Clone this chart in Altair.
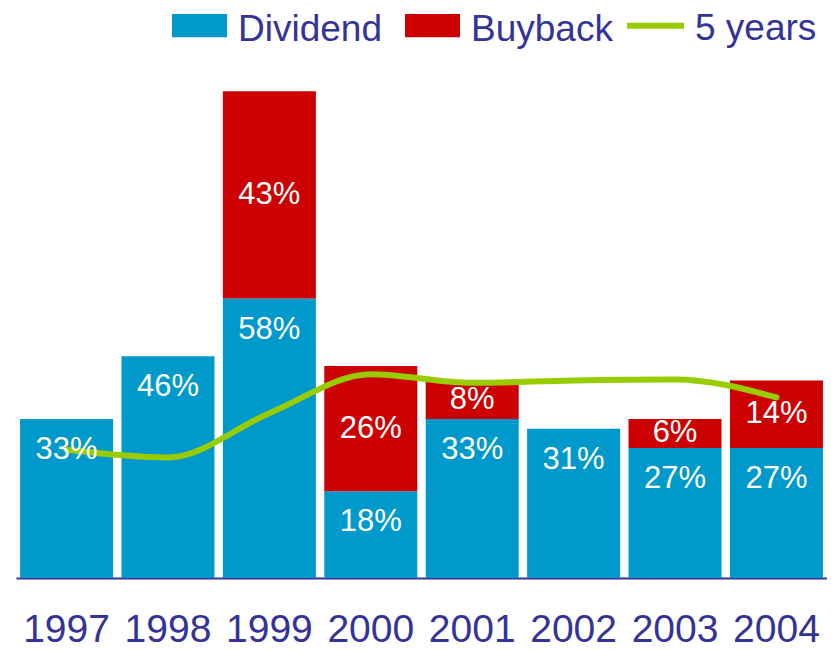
import altair as alt
import pandas as pd

years = ["1997", "1998", "1999", "2000", "2001", "2002", "2003", "2004"]
dividend = [33, 46, 58, 18, 33, 31, 27, 27]
buyback = [0, 0, 43, 26, 8, 0, 6, 14]
five_years = [26.6, 25.0, 34.2, 42.3, 40.5, 41.0, 41.2, 37.5]

FONT = "Liberation Sans"
NAVY = "#333399"

bar_rows = []
for y, d, b in zip(years, dividend, buyback):
    bar_rows.append({"year": y, "series": "Dividend", "value": d, "order": 0})
    if b > 0:
        bar_rows.append({"year": y, "series": "Buyback", "value": b, "order": 1})
bars_df = pd.DataFrame(bar_rows)

div_lab = pd.DataFrame({"year": years, "pos": dividend,
                        "label": [f"{d}%" for d in dividend]})
buy_lab = pd.DataFrame([{"year": y, "pos": d + b / 2, "label": f"{b}%"}
                        for y, d, b in zip(years, dividend, buyback) if b > 0])
line_df = pd.DataFrame({"year": years, "value": five_years, "series": "5 years"})

xscale = alt.Scale(domain=years, paddingInner=0.083, paddingOuter=0.04)
yscale = alt.Scale(domain=[0, 118.3], nice=False, zero=True)

x_enc = alt.X("year:N", scale=xscale, sort=years,
              axis=alt.Axis(title=None, labelAngle=0, labelFontSize=39, labelColor=NAVY,
                            labelFont=FONT, ticks=False, tickSize=0, labelPadding=63,
                            labelBaseline="alphabetic", domainColor=NAVY, domainWidth=2,
                            grid=False))

bars = alt.Chart(bars_df).mark_bar().encode(
    x=x_enc,
    y=alt.Y("value:Q", stack="zero", scale=yscale, axis=None),
    order=alt.Order("order:Q"),
    fill=alt.Fill("series:N",
                  scale=alt.Scale(domain=["Dividend", "Buyback"], range=["#0099CC", "#CC0000"]),
                  legend=alt.Legend(orient="none", legendX=156, legendY=-6, direction="horizontal",
                                    title=None, symbolType="M-1,-0.57H1V0.27H-1Z", symbolSize=3025,
                                    symbolStrokeWidth=0, labelFontSize=37, labelColor=NAVY,
                                    labelFont=FONT, labelOffset=11, columnPadding=23)),
)

line = alt.Chart(line_df).mark_line(strokeWidth=6, interpolate="monotone", strokeCap="round").encode(
    x=alt.X("year:N", scale=xscale, sort=years),
    y=alt.Y("value:Q", scale=yscale),
    stroke=alt.Stroke("series:N", scale=alt.Scale(domain=["5 years"], range=["#99CC00"]),
                      legend=alt.Legend(orient="none", legendX=608, legendY=-11, title=None,
                                        direction="horizontal", symbolType="M-1,-0.1H1",
                                        symbolSize=3249, symbolStrokeWidth=6, labelFontSize=37,
                                        symbolFillColor="transparent",
                                        labelColor=NAVY, labelFont=FONT, labelOffset=8)),
)

t_div = alt.Chart(div_lab).mark_text(color="white", fontSize=31, font=FONT, baseline="middle",
                                     dy=31).encode(
    x=alt.X("year:N", scale=xscale, sort=years),
    y=alt.Y("pos:Q", scale=yscale),
    text="label:N",
)

t_buy = alt.Chart(buy_lab).mark_text(color="white", fontSize=31, font=FONT, baseline="middle").encode(
    x=alt.X("year:N", scale=xscale, sort=years),
    y=alt.Y("pos:Q", scale=yscale),
    text="label:N",
)

chart = alt.layer(bars, line, t_div, t_buy).properties(
    width=811, height=570,
    autosize=alt.AutoSizeParams(type="none"),
    padding={"left": 8, "top": 0, "right": 0, "bottom": 71},
).configure(font=FONT, view=alt.ViewConfig(stroke=None))

chart.save("out.html", embed_options={"renderer": "svg", "actions": False})
